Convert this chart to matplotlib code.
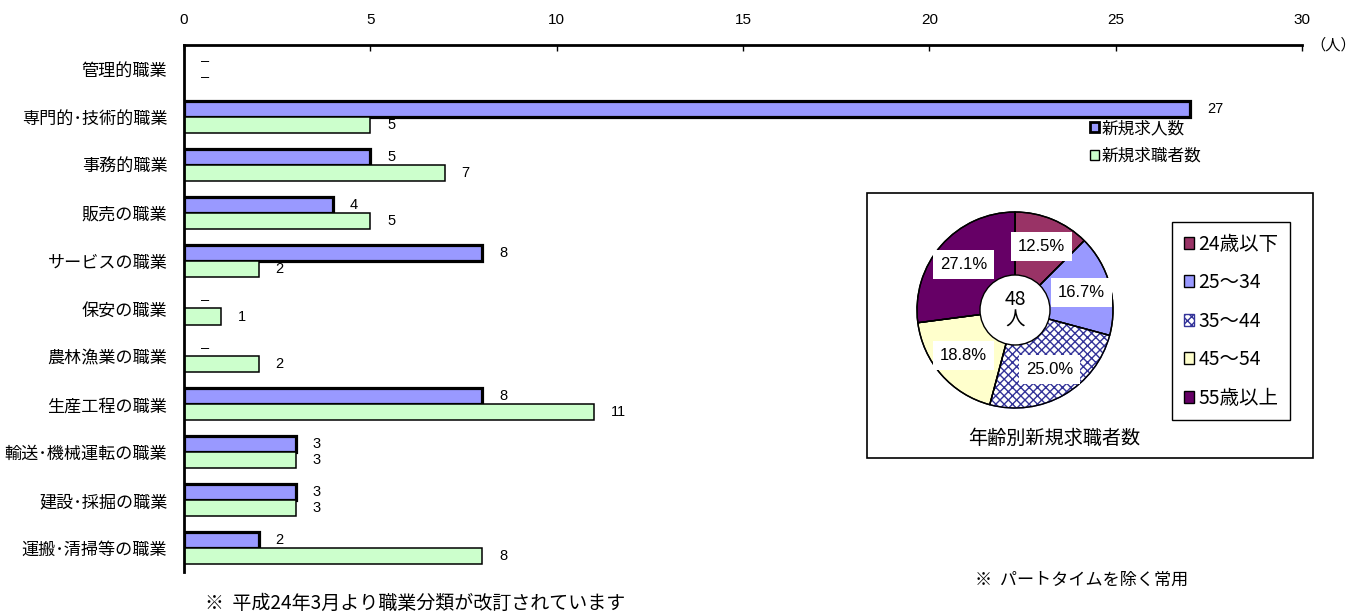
import matplotlib.pyplot as plt
import matplotlib.patches as mpatches
import numpy as np

plt.rcParams['font.family'] = ['Noto Sans CJK JP', 'DejaVu Sans']
NUM_FONT = ['Liberation Sans', 'DejaVu Sans']

# 職業別 新規求人数 / 新規求職者数 (None = －)
categories = ['管理的職業', '専門的･技術的職業', '事務的職業', '販売の職業',
              'サービスの職業', '保安の職業', '農林漁業の職業', '生産工程の職業',
              '輸送･機械運転の職業', '建設･採掘の職業', '運搬･清掃等の職業']
openings = [None, 27, 5, 4, 8, None, None, 8, 3, 3, 2]
seekers = [None, 5, 7, 5, 2, 1, 2, 11, 3, 3, 8]
x_ticks = [0, 5, 10, 15, 20, 25, 30]

# 年齢別新規求職者数
age_groups = ['24歳以下', '25～34', '35～44', '45～54', '55歳以上']
age_pct = [12.5, 16.7, 25.0, 18.8, 27.1]
age_total = 48

blue = '#9999FF'
green = '#CCFFCC'
age_colors = ['#993366', '#9999FF', 'white', '#FFFFCC', '#660066']

W, H = 1359, 614
fig = plt.figure(figsize=(W / 100, H / 100), dpi=100)

# ---- bar chart ----
ax = fig.add_axes([184 / W, 1 - 572 / H, (1302 - 184) / W, (572 - 45) / H])
y = np.arange(len(categories))
h = 0.335

op = np.array([np.nan if v is None else v for v in openings], float)
sk = np.array([np.nan if v is None else v for v in seekers], float)
m1 = ~np.isnan(op)
m2 = ~np.isnan(sk)
ax.barh(y[m1] - h / 2, op[m1], height=h, color=blue, edgecolor='black', linewidth=2.3)
ax.barh(y[m2] + h / 2, sk[m2], height=h, color=green, edgecolor='black', linewidth=1.1)

for vals, off in ((openings, -h / 2), (seekers, h / 2)):
    for i, v in enumerate(vals):
        txt = '–' if v is None else str(v)
        xv = 0 if v is None else v
        ax.text(xv + 0.45, y[i] + off, txt, ha='left', va='center',
                fontsize=10.5, family=NUM_FONT)

ax.set_xlim(0, 30)
ax.set_ylim(len(categories) - 0.5, -0.5)
ax.xaxis.tick_top()
ax.set_xticks(x_ticks)
ax.set_xticklabels([str(t) for t in x_ticks], family=NUM_FONT, fontsize=11)
ax.tick_params(axis='x', direction='in', length=4, width=1, pad=13)
ax.set_yticks(y)
ax.set_yticklabels(categories, fontsize=12.3)
ax.tick_params(axis='y', length=0, pad=12)
for s in ('right', 'bottom'):
    ax.spines[s].set_visible(False)
for s in ('top', 'left'):
    ax.spines[s].set_linewidth(2)
fig.text(1356 / W, 1 - 45 / H, '（人）', ha='right', va='center', fontsize=11)

bar_handles = [mpatches.Patch(facecolor=blue, edgecolor='black', linewidth=2),
               mpatches.Patch(facecolor=green, edgecolor='black', linewidth=1)]
fig.legend(bar_handles, ['新規求人数', '新規求職者数'], loc='upper left',
           bbox_to_anchor=(1090 / W, 1 - 120 / H), frameon=False, fontsize=12,
           handlelength=0.55, handleheight=0.55, handletextpad=0.15,
           labelspacing=0.65, borderpad=0, borderaxespad=0)

# ---- pie inset ----
fig.add_artist(mpatches.Rectangle((867 / W, 1 - 458 / H), (1313 - 867) / W, (458 - 193) / H,
                                  transform=fig.transFigure, fill=False,
                                  edgecolor='black', linewidth=1.2))

ax_pie = fig.add_axes([(1015 - 110) / W, (H - 310 - 110) / H, 220 / W, 220 / H])
wedges, _, autotexts = ax_pie.pie(age_pct, colors=age_colors, startangle=90, counterclock=False,
                                  radius=0.98, autopct='%.1f%%', pctdistance=0.7,
                                  wedgeprops=dict(edgecolor='black', linewidth=1),
                                  textprops=dict(fontsize=12, family=NUM_FONT))
wedges[2].set_hatch('xxxx')
wedges[2].set_edgecolor('#333399')
ax_pie.pie(age_pct, startangle=90, counterclock=False, radius=0.98,
           wedgeprops=dict(facecolor='none', edgecolor='black', linewidth=1))
for t in autotexts:
    t.set_bbox(dict(facecolor='white', edgecolor='none', pad=5))
ax_pie.add_patch(mpatches.Circle((0, 0), 0.35, facecolor='white', edgecolor='black',
                                 linewidth=1, zorder=3))
ax_pie.text(0, 0, f'{age_total}\n人', ha='center', va='center', fontsize=14,
            linespacing=0.95, zorder=4)
ax_pie.set_xlim(-1.1, 1.1)
ax_pie.set_ylim(-1.1, 1.1)
ax_pie.set_aspect('equal')
ax_pie.axis('off')

fig.legend(wedges, age_groups, loc='upper left', bbox_to_anchor=(1172 / W, 1 - 222 / H),
           frameon=True, fancybox=False, edgecolor='black', framealpha=1, fontsize=14,
           handlelength=0.55, handleheight=0.55, handletextpad=0.2, labelspacing=0.9,
           borderpad=0.6, borderaxespad=0)

fig.text(1054 / W, 1 - 438 / H, '年齢別新規求職者数', ha='center', va='center', fontsize=13.8)

# ---- notes ----
fig.text(205 / W, 1 - 603 / H, '※  平成24年3月より職業分類が改訂されています',
         ha='left', va='center', fontsize=13.7)
fig.text(975 / W, 1 - 580 / H, '※  パートタイムを除く常用', ha='left', va='center', fontsize=12.3)

fig.savefig('out.png', dpi=100)
